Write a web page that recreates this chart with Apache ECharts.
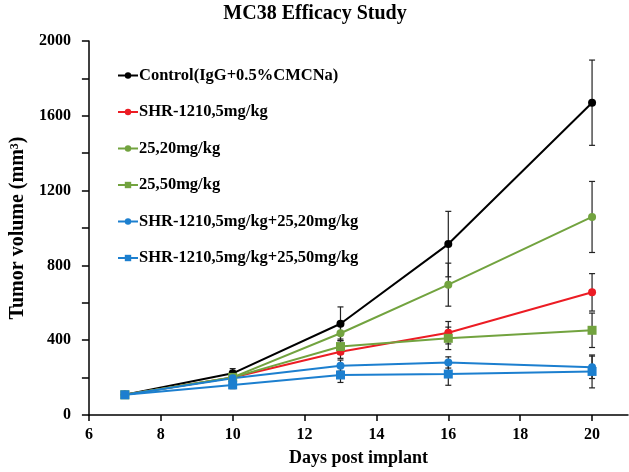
<!DOCTYPE html>
<html>
<head>
<meta charset="utf-8">
<script src="https://cdn.jsdelivr.net/npm/echarts@6/dist/echarts.min.js"></script>
<style>html,body{margin:0;padding:0;background:#fff}#c{width:629px;height:472px}</style>
</head>
<body>
<div id="c"></div>
<script>
var days = [7, 10, 13, 16, 20];
var xTicks = [6, 8, 10, 12, 14, 16, 18, 20];
var names = ['Control(IgG+0.5%CMCNa)', 'SHR-1210,5mg/kg', '25,20mg/kg', '25,50mg/kg', 'SHR-1210,5mg/kg+25,20mg/kg', 'SHR-1210,5mg/kg+25,50mg/kg'];
var control = [108, 223, 488, 914, 1670];
var controlErr = [8, 25, 90, 175, 228];
var shr = [108, 201, 338, 440, 656];
var shrErr = [5, 20, 35, 60, 100];
var g20 = [108, 201, 437, 697, 1059];
var g20Err = [5, 20, 40, 115, 190];
var g50 = [108, 201, 366, 410, 453];
var g50Err = [5, 20, 40, 60, 92];
var combo20 = [108, 196, 264, 281, 255];
var combo20Err = [5, 20, 30, 30, 60];
var combo50 = [108, 161, 214, 219, 233];
var combo50Err = [5, 20, 40, 60, 88];

var colors = ['#000000', '#ec1c24', '#72a33f', '#72a33f', '#1c7fcf', '#1c7fcf'];
var symbols = ['circle', 'circle', 'circle', 'rect', 'circle', 'rect'];
var values = [control, shr, g20, g50, combo20, combo50];
var errs = [controlErr, shrErr, g20Err, g50Err, combo20Err, combo50Err];
var font = '"Liberation Serif", "Times New Roman", serif';

var series = [];
values.forEach(function (vals, i) {
  var ed = days.map(function (d, j) { return [d, vals[j] - errs[i][j], vals[j] + errs[i][j]]; });
  series.push({
    type: 'custom',
    silent: true,
    z: 1,
    data: ed,
    encode: { x: 0, y: [1, 2] },
    renderItem: function (params, api) {
      var x = api.value(0);
      var lo = api.coord([x, api.value(1)]);
      var hi = api.coord([x, api.value(2)]);
      var w = 3;
      var st = { stroke: '#222', lineWidth: 1.2 };
      return {
        type: 'group',
        children: [
          { type: 'line', shape: { x1: lo[0], y1: lo[1], x2: hi[0], y2: hi[1] }, style: st },
          { type: 'line', shape: { x1: lo[0] - w, y1: lo[1], x2: lo[0] + w, y2: lo[1] }, style: st },
          { type: 'line', shape: { x1: hi[0] - w, y1: hi[1], x2: hi[0] + w, y2: hi[1] }, style: st }
        ]
      };
    }
  });
});
values.forEach(function (vals, i) {
  series.push({
    name: names[i],
    type: 'line',
    z: 3,
    data: days.map(function (d, j) { return [d, vals[j]]; }),
    symbol: symbols[i],
    symbolSize: symbols[i] === 'rect' ? 9 : 8,
    showAllSymbol: true,
    lineStyle: { color: colors[i], width: 2 },
    itemStyle: { color: colors[i] },
    animation: false
  });
});

var chart = echarts.init(document.getElementById('c'));
chart.setOption({
  animation: false,
  title: {
    text: 'MC38 Efficacy Study',
    left: 310,
    textAlign: 'center',
    top: -1,
    textStyle: { fontFamily: font, fontWeight: 'bold', fontSize: 20, color: '#000' }
  },
  legend: {
    orient: 'vertical',
    left: 112,
    top: 62,
    itemWidth: 20,
    itemHeight: 8,
    itemGap: 19.5,
    data: names,
    textStyle: { fontFamily: font, fontWeight: 'bold', fontSize: 16.5, color: '#000', padding: [0, 0, 0, -4] }
  },
  grid: { left: 73, right: 1, top: 41, bottom: 54 },
  xAxis: {
    type: 'value',
    min: 6,
    max: 21,
    interval: 2,
    name: 'Days post implant',
    nameLocation: 'middle',
    nameGap: 34,
    nameTextStyle: { fontFamily: font, fontWeight: 'bold', fontSize: 18, color: '#000' },
    axisLine: { lineStyle: { color: '#000', width: 1.5 } },
    axisTick: { length: 6, customValues: xTicks, lineStyle: { color: '#000', width: 1.5 } },
    axisLabel: { customValues: xTicks, margin: 12, fontFamily: font, fontWeight: 'bold', fontSize: 16, color: '#000' },
    splitLine: { show: false }
  },
  yAxis: {
    type: 'value',
    min: 0,
    max: 2000,
    interval: 200,
    name: 'Tumor volume (mm³)',
    nameLocation: 'middle',
    nameGap: 52,
    nameTextStyle: { fontFamily: font, fontWeight: 'bold', fontSize: 20, color: '#000' },
    axisLine: { show: true, lineStyle: { color: '#000', width: 1.5 } },
    axisTick: { show: true, length: 7, lineStyle: { color: '#000', width: 1.5 } },
    axisLabel: {
      margin: 18, fontFamily: font, fontWeight: 'bold', fontSize: 16, color: '#000',
      formatter: function (v) { return v % 400 === 0 ? String(v) : ''; }
    },
    splitLine: { show: false }
  },
  series: series
});
</script>
</body>
</html>
